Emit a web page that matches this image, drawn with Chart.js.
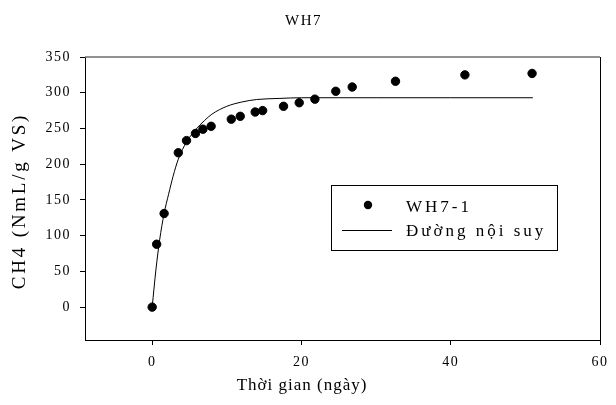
<!DOCTYPE html>
<html>
<head>
<meta charset="utf-8">
<script src="https://cdn.jsdelivr.net/npm/chart.js@4.4.0/dist/chart.umd.min.js"></script>
<style>
  html, body { margin: 0; padding: 0; background: #fff; }
</style>
</head>
<body>
<canvas id="myChart" width="616" height="405"></canvas>
<script>
// measured points (days, CH4 NmL/g VS)
const days = [0, 0.6, 1.6, 3.5, 4.6, 5.8, 6.8, 7.9, 10.6, 11.8, 13.8, 14.8, 17.6, 19.7, 21.8, 24.6, 26.8, 32.6, 41.9, 50.9];
const methane = [0, 88, 131, 216, 233, 243, 249, 253, 263, 267, 273, 275, 281, 286, 291, 302, 308, 316, 325, 327];
// fitted curve
const fitDays = [0, 0.5, 1, 1.6, 2.2, 2.8, 3.5, 4.6, 5.8, 7, 8, 10, 12, 14, 17, 20, 25, 30, 40, 51];
const fitValues = [0, 52, 94, 131, 158, 183, 207, 231, 248, 261, 270, 281, 287, 290.5, 292, 293, 293, 293, 293, 293];
const xTicks = [0, 20, 40, 60];
const yTicks = [0, 50, 100, 150, 200, 250, 300, 350];
const xTitle = 'Thời gian (ngày)';
const yTitle = 'CH4 (NmL/g VS)';

const serif = '"Liberation Serif", "Times New Roman", serif';

// spacing to get the wide look of the original text
const spacing = {
  id: 'spacing',
  beforeDraw(chart) { chart.ctx.letterSpacing = '1.5px'; }
};

const frame = {
  id: 'frame',
  afterDraw(chart) {
    const { ctx, chartArea: a } = chart;
    ctx.save();
    ctx.strokeStyle = '#6e6e6e';
    ctx.lineWidth = 1.5;
    ctx.beginPath();
    ctx.moveTo(a.left, a.top);
    ctx.lineTo(a.right, a.top);
    ctx.stroke();
    ctx.strokeStyle = '#000';
    ctx.lineWidth = 1;
    ctx.beginPath();
    ctx.moveTo(a.right + 0.5, a.top);
    ctx.lineTo(a.right + 0.5, a.bottom);
    ctx.stroke();

    // axis titles
    ctx.fillStyle = '#000';
    ctx.textAlign = 'center';
    ctx.textBaseline = 'middle';
    ctx.font = '17px ' + serif;
    ctx.letterSpacing = '1px';
    ctx.fillText(xTitle, 302, 386);
    ctx.translate(20, 201);
    ctx.rotate(-Math.PI / 2);
    ctx.font = '19px ' + serif;
    ctx.letterSpacing = '2.8px';
    ctx.fillText(yTitle, 0, 0);
    ctx.restore();
  }
};

const boxLegend = {
  id: 'boxLegend',
  afterDraw(chart) {
    const ctx = chart.ctx;
    const ds = chart.data.datasets;
    ctx.save();
    ctx.strokeStyle = '#000';
    ctx.lineWidth = 1;
    ctx.strokeRect(331.5, 185.5, 226, 65);
    ctx.fillStyle = '#000';
    ctx.beginPath();
    ctx.arc(368, 205, 4.2, 0, Math.PI * 2);
    ctx.fill();
    ctx.beginPath();
    ctx.moveTo(342, 230.5);
    ctx.lineTo(392, 230.5);
    ctx.stroke();
    ctx.font = '17px ' + serif;
    ctx.letterSpacing = '3px';
    ctx.textAlign = 'left';
    ctx.textBaseline = 'alphabetic';
    ctx.fillText(ds[0].label, 406, 212);
    ctx.fillText(ds[1].label, 406, 236);
    ctx.restore();
  }
};

new Chart(document.getElementById('myChart'), {
  type: 'scatter',
  data: {
    datasets: [
      {
        label: 'WH7-1',
        data: days.map((d, i) => ({ x: d, y: methane[i] })),
        backgroundColor: '#000',
        borderColor: '#000',
        pointRadius: 4.2,
        pointHoverRadius: 4.2
      },
      {
        label: 'Đường nội suy',
        data: fitDays.map((d, i) => ({ x: d, y: fitValues[i] })),
        showLine: true,
        borderColor: '#000',
        borderWidth: 1,
        pointRadius: 0,
        cubicInterpolationMode: 'monotone'
      }
    ]
  },
  options: {
    responsive: false,
    animation: false,
    layout: { padding: { left: 0, right: 9, top: 0, bottom: 0 } },
    plugins: {
      legend: { display: false },
      tooltip: { enabled: false },
      title: {
        display: true,
        text: 'WH7',
        color: '#000',
        font: { family: serif, size: 15, weight: 'normal' },
        padding: { top: 12, bottom: 27 }
      }
    },
    scales: {
      x: {
        type: 'linear',
        min: -9,
        max: 60,
        afterBuildTicks: s => { s.ticks = xTicks.map(v => ({ value: v })); },
        afterFit: s => { s.height = 65; },
        grid: { drawOnChartArea: false, drawTicks: true, tickLength: 5, tickColor: '#000' },
        border: { color: '#000', width: 1 },
        ticks: { color: '#000', font: { family: serif, size: 14 }, padding: 9, maxRotation: 0 }
      },
      y: {
        type: 'linear',
        min: -46,
        max: 350,
        afterBuildTicks: s => { s.ticks = yTicks.map(v => ({ value: v })); },
        afterFit: s => { s.width = 85; },
        grid: { drawOnChartArea: false, drawTicks: true, tickLength: 5, tickColor: '#000' },
        border: { color: '#000', width: 1 },
        ticks: { color: '#000', font: { family: serif, size: 14 }, padding: 9 }
      }
    }
  },
  plugins: [spacing, frame, boxLegend]
});
</script>
</body>
</html>
